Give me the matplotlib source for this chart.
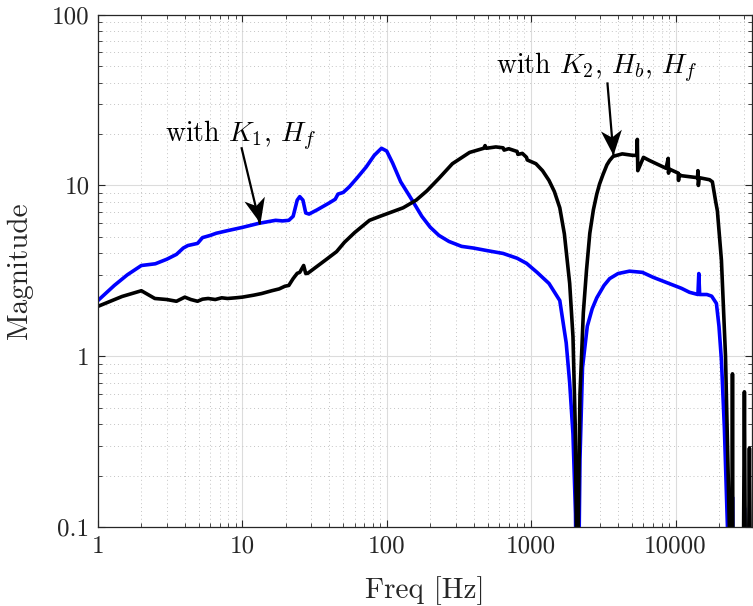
import numpy as np
import matplotlib
matplotlib.use("Agg")
import matplotlib.pyplot as plt
from matplotlib.ticker import FixedLocator, LogLocator, NullFormatter
from matplotlib.path import Path
from matplotlib.markers import MarkerStyle
from matplotlib.transforms import Affine2D

plt.rcParams['font.family'] = 'cmr10'
plt.rcParams['mathtext.fontset'] = 'cm'
plt.rcParams['axes.formatter.use_mathtext'] = True

# blue: with K1, Hf
freq_k1 = [1, 1.3, 1.6, 2.0, 2.5, 3.0, 3.5, 3.9, 4.2, 4.9, 5.3, 6.0, 6.6, 8.0, 10,
           13, 17, 19, 21, 22.5, 24, 25, 26.3, 27.5, 29, 33, 40, 44, 46, 50, 55, 62,
           72, 82, 92, 100, 110, 125, 150, 175, 200, 230, 270, 330, 400, 500, 640,
           800, 930, 1100, 1330, 1580, 1750, 1850, 1950, 2030, 2080, 2120, 2180,
           2270, 2450, 2650, 2850, 3200, 3500, 4000, 4800, 5900, 7000, 9000, 11000,
           12500, 14300, 14500, 14700, 16500, 17800, 19200, 20000, 20800, 21800,
           22900, 23500, 24500, 24800, 25200, 29500, 30000, 30500, 36000]
mag_k1 = [2.12, 2.6, 3.0, 3.4, 3.48, 3.7, 3.95, 4.3, 4.45, 4.58, 4.95, 5.1, 5.25, 5.45, 5.68,
          6.0, 6.25, 6.2, 6.25, 6.6, 8.2, 8.6, 8.2, 6.9, 6.8, 7.2, 7.9, 8.3, 8.9, 9.1, 9.8, 11.0,
          12.8, 15.0, 16.5, 15.9, 13.5, 10.5, 8.2, 6.6, 5.7, 5.1, 4.7, 4.4, 4.3, 4.15, 4.0,
          3.75, 3.5, 3.1, 2.67, 2.12, 1.2, 0.7, 0.35, 0.12, 0.02, 0.03, 0.25,
          0.86, 1.5, 1.9, 2.2, 2.6, 2.85, 3.05, 3.15, 3.1, 2.9, 2.67, 2.5,
          2.37, 2.3, 3.05, 2.3, 2.3, 2.25, 2.04, 1.5, 0.95, 0.38,
          0.1, 0.06, 0.05, 0.15, 0.05, 0.05, 0.13, 0.05, 0.05]

# black: with K2, Hb, Hf
freq_k2 = [1, 1.47, 2.0, 2.48, 3.0, 3.5, 4.0, 4.4, 4.9, 5.3, 5.8, 6.5, 7.2, 7.9, 9.0, 10,
           12, 13.6, 16, 18, 19.7, 21, 22.5, 24, 25, 26.6, 27.5, 28.4, 32, 39, 45, 51, 60,
           76, 90, 130, 160, 190, 230, 285, 375, 470, 480, 490, 570, 640, 650, 700, 800,
           810, 870, 930, 940, 1080, 1200, 1330, 1450, 1580, 1700, 1850, 1950, 2020, 2060,
           2090, 2120, 2180, 2300, 2420, 2550, 2700, 2850, 2980, 3150, 3350, 3500, 3700,
           4280, 5050, 5400, 5440, 5480, 6000, 6600, 8600, 8900, 8950, 9000, 10450, 10500,
           10550, 11000, 14200, 14300, 14400, 14600, 17200, 18000, 19000, 19500, 20800,
           22200, 23600, 24000, 24600, 24800, 25000, 26000, 29500, 30000, 30500, 32000,
           32500, 33000]
mag_k2 = [1.96, 2.24, 2.42, 2.18, 2.15, 2.1, 2.22, 2.15, 2.1, 2.16, 2.18, 2.15, 2.2, 2.18, 2.2, 2.22,
          2.28, 2.33, 2.42, 2.48, 2.57, 2.6, 2.85, 3.06, 3.1, 3.4, 3.05, 3.06, 3.3, 3.74, 4.1, 4.65, 5.3,
          6.25, 6.6, 7.4, 8.2, 9.3, 11.0, 13.4, 15.6, 16.5, 17.1, 16.5, 16.8, 16.6, 16.1, 16.4, 15.8,
          15.2, 15.4, 14.6, 14.1, 13.4, 12.2, 10.7, 9.2, 7.4, 5.2, 2.67, 1.3, 0.4, 0.1,
          0.01, 0.1, 0.6, 1.8, 3.2, 5.25, 7.2, 8.9, 10.2, 11.6, 13.2, 14.0, 14.8,
          15.3, 15.0, 15.0, 18.6, 12.2, 14.6, 14.0, 12.6, 14.4, 11.8, 12.5, 11.8, 10.7,
          11.6, 11.4, 11.1, 12.2, 10.0, 11.1, 10.8, 10.5, 8.0, 7.1, 3.65,
          1.0, 0.1, 0.05, 0.05, 0.79, 0.05, 0.05, 0.05, 0.62, 0.05, 0.05,
          0.29, 0.05]

x_ticks = [1, 10, 100, 1000, 10000]
x_tick_labels = ['1', '10', '100', '1000', '10000']
y_ticks = [0.1, 1, 10, 100]
y_tick_labels = ['0.1', '1', '10', '100']

fig = plt.figure(figsize=(7.53, 6.06), dpi=100)
ax = fig.add_axes([0.130, 0.130, 0.869, 0.846])

ax.loglog(freq_k1, mag_k1, color='#0000ff', linewidth=2.6, solid_joinstyle='round')
ax.loglog(freq_k2, mag_k2, color='black', linewidth=2.6, solid_joinstyle='round')

ax.set_xlim(1, 34000)
ax.set_ylim(0.1, 100)

ax.xaxis.set_major_locator(FixedLocator(x_ticks))
ax.set_xticklabels(x_tick_labels)
ax.yaxis.set_major_locator(FixedLocator(y_ticks))
ax.set_yticklabels(y_tick_labels)
ax.xaxis.set_minor_locator(LogLocator(base=10, subs=np.arange(2, 10), numticks=20))
ax.yaxis.set_minor_locator(LogLocator(base=10, subs=np.arange(2, 10), numticks=20))
ax.xaxis.set_minor_formatter(NullFormatter())
ax.yaxis.set_minor_formatter(NullFormatter())

ax.grid(True, which='major', color='#dcdcdc', linestyle='-', linewidth=0.8)
ax.grid(True, which='minor', color='#c4c4c4', linestyle=(0, (1, 3)), linewidth=0.7)
ax.set_axisbelow(True)

ax.tick_params(which='both', direction='in', top=True, right=True, colors='#262626',
               labelcolor='#262626')
ax.tick_params(which='major', length=5, width=0.8, labelsize=18, pad=6)
ax.tick_params(which='minor', length=3, width=0.6)
for s in ax.spines.values():
    s.set_color('#262626')
    s.set_linewidth(0.9)

ax.set_xlabel('Freq [Hz]', fontsize=21, color='#262626')
ax.set_ylabel('Magnitude', fontsize=21, color='#262626')
ax.xaxis.set_label_coords(0.5, -0.095, transform=ax.transAxes)
ax.yaxis.set_label_coords(-0.099, 0.5, transform=ax.transAxes)

# arrowhead like matlab's vback2
head = Path([(0, 0), (-1, 0.42), (-0.72, 0), (-1, -0.42), (0, 0)],
            [Path.MOVETO, Path.LINETO, Path.LINETO, Path.LINETO, Path.CLOSEPOLY])


def arrow(tail, tip):
    ax.plot([tail[0], tip[0]], [tail[1], tip[1]], color='black', linewidth=1.6)
    p0 = ax.transData.transform(tail)
    p1 = ax.transData.transform(tip)
    ang = np.degrees(np.arctan2(p1[1] - p0[1], p1[0] - p0[0]))
    m = MarkerStyle(head, transform=Affine2D().rotate_deg(ang))
    ax.plot([tip[0]], [tip[1]], marker=m, markersize=36, color='black', markeredgewidth=0)


arrow((9.9, 16.5), (13.2, 6.0))
ax.text(9.7, 17.8, 'with $K_1$, $H_f$', fontsize=20, ha='center', va='baseline')
arrow((3380, 39.5), (3720, 15.0))
ax.text(2840, 45.0, 'with $K_2$, $H_b$, $H_f$', fontsize=20, ha='center', va='baseline')

fig.savefig('out.png', dpi=100)
